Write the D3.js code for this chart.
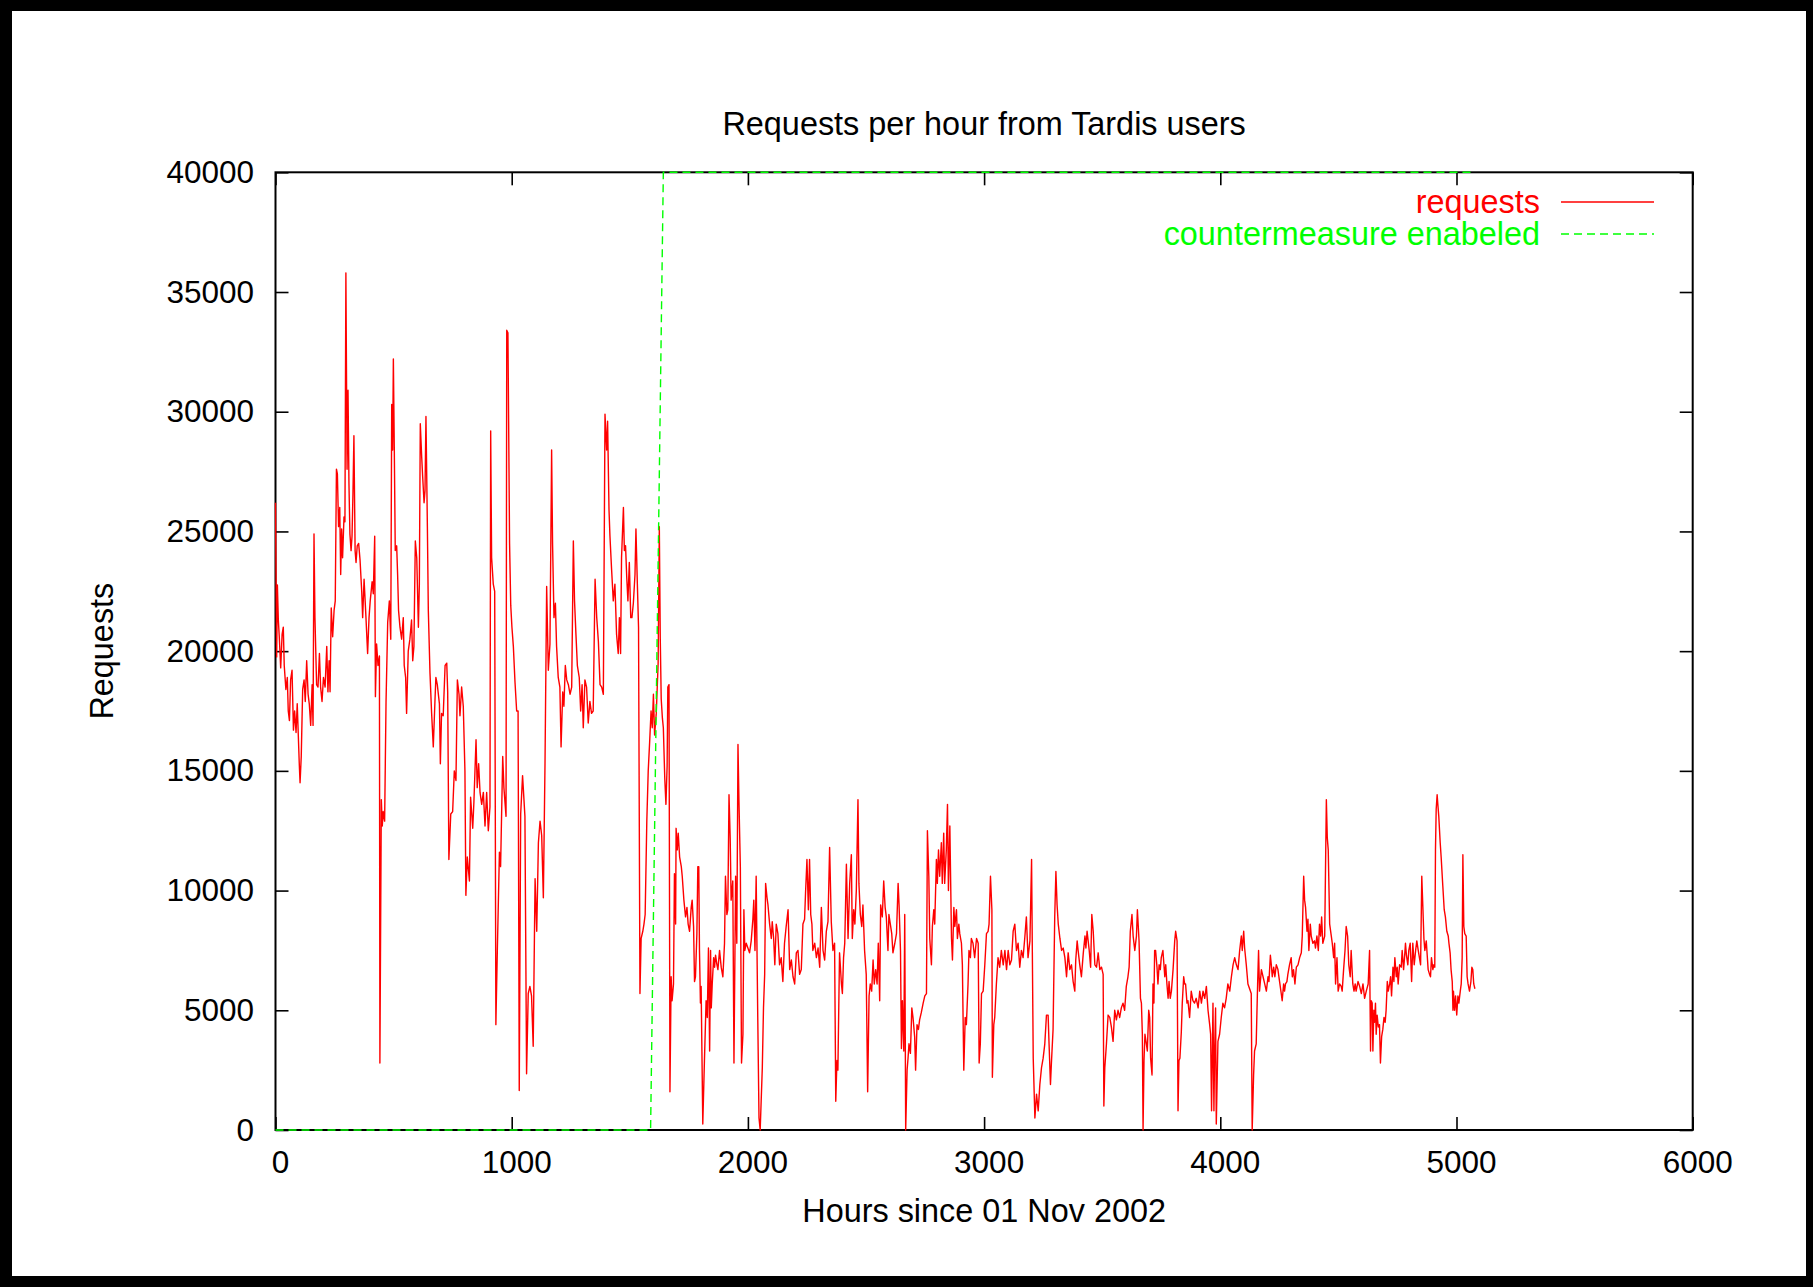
<!DOCTYPE html>
<html>
<head>
<meta charset="utf-8">
<script src="https://cdn.jsdelivr.net/npm/d3@7"></script>
<style>
  body { margin: 0; background: #fff; }
  text { font-family: "Liberation Sans", Arial, Helvetica, sans-serif; }
</style>
</head>
<body>
<script>
// Requests per hour. [hour, requests]
// Before the countermeasure (roughly hours 0 - 1640)
const requestsBefore = [
  [0,26200],[5,19760],[8,22760],[12,21300],[16,20600],[22,19300],[28,20700],[33,21000],[37,19400],
  [44,18400],[50,18900],[54,17500],[59,17100],[64,18800],[70,19200],[76,16700],[81,17500],[87,16600],
  [92,17800],[101,15200],[104,14500],[109,15600],[115,18400],[121,18800],[126,17900],[132,19600],
  [138,18200],[143,17800],[149,16900],[155,18600],[159,16900],[163,24900],[167,21400],[174,18600],
  [180,18500],[186,19900],[191,18500],[197,17900],[203,18900],[210,18500],[217,20200],[222,18300],
  [227,19600],[231,18300],[236,21800],[242,20600],[248,21700],[253,22100],[258,27600],[262,27400],
  [267,25200],[272,26000],[276,23200],[280,25100],[284,23900],[290,25600],[294,25400],[298,35800],
  [303,27600],[307,30900],[311,27000],[315,24900],[320,24200],[324,24800],[328,26600],[332,29000],
  [337,24200],[341,23700],[346,24400],[352,24500],[358,23800],[365,22500],[369,21400],[375,23000],
  [383,21400],[390,19900],[396,21400],[401,22100],[409,22900],[414,22400],[420,24800],[423,18100],
  [428,20300],[434,19400],[440,19800],[442,2800],[448,13800],[452,12700],[456,13300],[462,12900],
  [468,17900],[475,21200],[482,22100],[488,20500],[492,30300],[496,28400],[499,32200],[503,28400],
  [507,24200],[513,24400],[517,23200],[521,21700],[527,21000],[534,20500],[541,21400],[545,19400],
  [551,18900],[555,17400],[562,20000],[569,20500],[576,21300],[581,19600],[586,20200],[592,24600],
  [598,23900],[605,21000],[609,22800],[613,29500],[619,28100],[623,27300],[629,26200],[633,26700],
  [637,29800],[643,25200],[647,21700],[654,19100],[661,17400],[668,16000],[675,17900],[679,18900],
  [685,18600],[694,17800],[698,15300],[703,17400],[710,17300],[718,19400],[725,19500],[729,18300],
  [734,11300],[742,13200],[750,13300],[757,15000],[764,14600],[770,18800],[777,18200],[781,17300],
  [788,18500],[795,17700],[802,15000],[806,9800],[812,11400],[821,10400],[826,13900],[835,12600],
  [840,13700],[849,16300],[854,14300],[860,15300],[866,14100],[873,13600],[880,14100],[887,12700],
  [894,14100],[901,12500],[908,13500],[911,29200],[915,23900],[922,22800],[928,22500],[933,4400],
  [939,7400],[948,11600],[953,11000],[962,15600],[967,14300],[976,13100],[979,33400],[984,33300],
  [987,29600],[991,24500],[996,21900],[1001,21000],[1007,20200],[1014,18700],[1021,17500],[1027,17500],
  [1032,1650],[1038,13200],[1046,14800],[1056,13100],[1063,2350],[1070,5700],[1077,6000],[1084,5600],
  [1091,3500],[1099,10500],[1106,8300],[1113,12000],[1120,12900],[1127,12300],[1134,9700],[1141,15300],
  [1148,22700],[1155,19200],[1162,20300],[1169,28400],[1173,24500],[1179,21400],[1185,22000],[1190,20200],
  [1197,18900],[1204,18500],[1209,16000],[1216,18300],[1221,17700],[1227,19400],[1233,18800],[1240,18600],
  [1247,18200],[1254,18500],[1261,24600],[1266,22100],[1272,20700],[1278,19400],[1286,18900],[1292,17500],
  [1298,18600],[1303,16800],[1310,18800],[1317,18500],[1324,17000],[1331,17900],[1338,17400],[1345,17500],
  [1353,23000],[1360,21400],[1367,20400],[1374,18600],[1381,18500],[1388,18200],[1395,29900],[1402,28400],
  [1406,29600],[1412,25900],[1416,24800],[1423,23400],[1430,22100],[1437,22800],[1444,20700],[1451,19900],
  [1456,21400],[1461,19900],[1465,23900],[1473,26000],[1477,24200],[1482,24400],[1487,23100],[1492,22100],
  [1498,23700],[1504,21400],[1509,21400],[1515,22000],[1522,23200],[1526,25100],[1532,22800],[1537,21000],
  [1543,5700],[1548,8000],[1555,8300],[1560,8600],[1565,9000],[1572,12900],[1578,15000],[1584,16200],
  [1590,17500],[1595,16800],[1600,18200],[1605,16500],[1612,17400],[1620,19500],[1625,25200],[1629,20500],
  [1633,18000],[1638,17200]
];

// After the countermeasure (roughly hours 1640 - 5080)
const requestsAfter = [
  [1642,16800],[1648,14700],[1653,13600],[1658,15200],[1661,18500],[1666,18600],[1670,1600],[1675,6400],
  [1679,5400],[1685,6100],[1689,10700],[1694,8600],[1696,12600],[1701,11700],[1705,12400],[1711,11400],
  [1718,11000],[1722,10600],[1729,9600],[1736,8900],[1742,9300],[1747,8600],[1753,8300],[1760,9300],
  [1764,9600],[1770,8500],[1774,6200],[1778,6400],[1784,8200],[1788,11000],[1792,11000],[1795,7500],
  [1799,5300],[1802,6000],[1809,250],[1816,2900],[1823,5400],[1828,4700],[1833,7600],[1838,3300],
  [1842,7500],[1845,5100],[1849,6100],[1855,7200],[1859,6800],[1863,7300],[1869,6900],[1873,6700],
  [1880,7500],[1887,6800],[1894,6400],[1901,7800],[1905,10600],[1911,9000],[1915,9200],[1920,14000],
  [1925,12200],[1929,9600],[1936,10400],[1941,2800],[1948,10600],[1953,7800],[1958,16100],[1962,13800],
  [1968,11000],[1973,2800],[1979,4000],[1983,9200],[1987,7500],[1993,7800],[2000,7600],[2007,7400],
  [2014,7900],[2021,8800],[2025,9600],[2030,7500],[2035,10600],[2042,4500],[2047,500],[2052,0],
  [2061,2600],[2066,5100],[2071,6500],[2075,10300],[2081,9700],[2085,9400],[2092,8600],[2099,8000],
  [2103,8700],[2109,8000],[2114,6900],[2120,8600],[2127,8200],[2134,6900],[2141,7200],[2148,6200],
  [2155,7800],[2162,8500],[2170,9200],[2177,6700],[2184,7100],[2191,6400],[2198,6100],[2205,7400],
  [2212,7500],[2219,6500],[2226,6700],[2233,8600],[2240,8800],[2244,9900],[2250,11300],[2256,9200],
  [2261,11300],[2266,9000],[2271,8600],[2275,7500],[2283,7800],[2290,7200],[2297,7600],[2304,6800],
  [2311,9300],[2318,7500],[2325,7100],[2332,8300],[2339,8700],[2346,11800],[2353,8700],[2360,7500],
  [2367,7800],[2372,1200],[2377,2900],[2381,2500],[2388,7400],[2396,6100],[2400,5700],[2405,7200],
  [2410,7800],[2417,11100],[2424,8000],[2431,10300],[2438,11500],[2442,8000],[2448,9200],[2453,8600],
  [2459,10000],[2466,13800],[2470,10300],[2476,9000],[2482,8500],[2487,9400],[2494,7500],[2501,6500],
  [2507,1600],[2513,5600],[2518,6100],[2524,5800],[2530,7100],[2535,6100],[2541,6700],[2547,6100],
  [2552,7800],[2558,5400],[2562,9400],[2569,8900],[2575,10400],[2581,9300],[2586,8900],[2593,7500],
  [2597,9000],[2603,8600],[2609,8200],[2614,7400],[2622,7800],[2629,8200],[2636,10300],[2640,9400],
  [2646,7500],[2650,3400],[2654,5400],[2660,3300],[2664,9000],[2668,0],[2674,2500],[2678,3000],
  [2682,3600],[2688,3200],[2694,5100],[2699,4700],[2706,3900],[2710,2500],[2716,4400],[2722,4200],
  [2727,4600],[2734,4900],[2742,5300],[2749,5600],[2756,5700],[2760,12500],[2766,10600],[2770,8000],
  [2777,6900],[2781,8500],[2787,9200],[2791,8600],[2798,11300],[2802,10300],[2807,11700],[2812,10600],
  [2819,12000],[2823,10300],[2829,12400],[2833,10300],[2840,11700],[2845,13600],[2849,10000],[2855,12700],
  [2862,8000],[2866,7100],[2872,9300],[2876,8500],[2883,9200],[2887,8000],[2893,8600],[2897,8200],
  [2904,7800],[2908,6900],[2914,2500],[2920,4700],[2925,4400],[2932,6100],[2936,7500],[2942,7200],
  [2946,8000],[2953,7800],[2960,7200],[2968,8000],[2975,7800],[2979,2800],[2984,3600],[2989,5700],
  [2996,5800],[3003,6900],[3010,8200],[3017,8300],[3021,8600],[3027,10600],[3033,9200],[3035,2200],
  [3041,4400],[3045,4700],[3052,6100],[3059,7200],[3066,6800],[3073,7500],[3081,6900],[3088,7500],
  [3095,6700],[3102,7500],[3109,6900],[3116,7100],[3123,8300],[3130,8600],[3137,7500],[3144,7800],
  [3151,6800],[3158,7500],[3165,7200],[3172,8000],[3179,8900],[3186,7200],[3194,7900],[3201,11300],
  [3208,3000],[3215,500],[3222,1500],[3229,800],[3236,1900],[3243,2600],[3250,3000],[3257,3600],
  [3264,4800],[3271,4800],[3275,3600],[3281,1900],[3285,2800],[3292,4200],[3299,8900],[3304,10800],
  [3309,9400],[3314,8600],[3321,8000],[3328,7500],[3335,7600],[3342,7200],[3349,6400],[3356,7400],
  [3363,6700],[3370,6900],[3377,6200],[3384,5800],[3388,7100],[3394,7900],[3398,7500],[3405,6900],
  [3412,6400],[3420,7400],[3427,8100],[3431,7600],[3436,8300],[3445,7500],[3451,6800],[3456,9000],
  [3462,8300],[3469,6900],[3476,6800],[3483,7400],[3490,6700],[3497,6800],[3504,6500],[3507,1000],
  [3511,2600],[3518,3600],[3525,4800],[3532,4700],[3539,4300],[3546,3700],[3553,5000],[3560,4600],
  [3567,5000],[3574,4700],[3581,5100],[3588,5300],[3595,5000],[3602,6000],[3609,6400],[3614,6800],
  [3619,8300],[3626,9000],[3631,8100],[3638,7500],[3645,8100],[3649,9200],[3656,7900],[3662,5500],
  [3666,5300],[3670,4000],[3673,0],[3677,2900],[3681,4000],[3687,3600],[3691,3300],[3697,5000],
  [3701,4700],[3705,3000],[3711,2300],[3715,6100],[3719,5300],[3722,7500],[3726,7500],[3732,6800],
  [3736,6100],[3741,6900],[3746,6700],[3750,7200],[3757,7500],[3765,6400],[3769,6900],[3774,6100],
  [3779,5500],[3783,6200],[3788,5500],[3793,5800],[3800,6700],[3807,7900],[3811,8300],[3817,7900],
  [3821,800],[3825,2900],[3829,3000],[3835,4100],[3839,5300],[3845,6400],[3849,6100],[3853,6100],
  [3859,5300],[3863,5400],[3870,4700],[3877,5800],[3884,5400],[3891,5300],[3898,5500],[3906,5100],
  [3913,5800],[3920,5300],[3927,5800],[3934,5500],[3941,6000],[3948,5000],[3955,4400],[3959,4000],
  [3963,800],[3969,5300],[3973,800],[3976,3300],[3980,5100],[3983,250],[3990,3700],[3997,4000],
  [4004,4700],[4011,5300],[4018,5100],[4025,5500],[4032,6100],[4040,5800],[4047,6400],[4054,6900],
  [4061,7200],[4068,6900],[4075,6700],[4082,7500],[4089,8100],[4093,7500],[4099,8300],[4103,7600],
  [4110,6900],[4117,6100],[4124,5900],[4131,5700],[4135,0],[4141,2300],[4145,3300],[4152,3600],
  [4158,6100],[4162,7500],[4166,5800],[4174,6700],[4181,6400],[4188,6100],[4195,5800],[4202,6400],
  [4206,6200],[4212,7300],[4216,6900],[4220,6400],[4226,6800],[4231,6400],[4237,6900],[4244,6700],
  [4251,6200],[4258,5700],[4262,5400],[4268,6100],[4272,5800],[4276,6100],[4282,6200],[4286,6500],
  [4293,6900],[4300,7200],[4305,6400],[4310,6700],[4316,6100],[4322,6800],[4329,6900],[4336,7200],
  [4343,7400],[4347,8100],[4353,10600],[4357,9600],[4361,9300],[4367,8300],[4371,8800],[4375,7500],
  [4381,8600],[4385,8100],[4392,7800],[4399,7900],[4403,7600],[4409,8100],[4415,7500],[4420,8600],
  [4425,8100],[4429,8900],[4434,7800],[4442,8100],[4449,13800],[4453,12200],[4457,11700],[4463,8600],
  [4470,8100],[4474,7800],[4480,7200],[4484,7800],[4488,6100],[4494,7200],[4499,5800],[4505,6100],
  [4512,6000],[4516,5800],[4522,6700],[4528,7500],[4533,8500],[4539,8100],[4544,6900],[4550,6400],
  [4554,7500],[4561,6100],[4566,5800],[4571,6100],[4575,5800],[4583,6200],[4590,6000],[4597,5700],
  [4604,6100],[4611,5500],[4618,5800],[4626,6100],[4632,7500],[4636,3300],[4639,5400],[4643,5300],
  [4646,3300],[4650,5000],[4653,4500],[4657,5300],[4660,4000],[4664,4800],[4669,4300],[4674,4400],
  [4678,2800],[4683,3900],[4688,4200],[4693,4700],[4698,4500],[4702,5000],[4707,6200],[4711,5800],
  [4717,6100],[4721,6400],[4725,5600],[4731,6800],[4735,6200],[4739,7200],[4745,6400],[4749,6800],
  [4753,6100],[4759,6900],[4766,6800],[4770,7500],[4776,6700],[4780,7200],[4784,7800],[4788,7300],
  [4794,6900],[4798,7500],[4804,7800],[4810,6200],[4815,7800],[4821,6900],[4827,7500],[4832,7900],
  [4838,7500],[4843,7200],[4848,6900],[4853,10600],[4858,9200],[4862,8000],[4866,7500],[4872,7900],
  [4876,7300],[4880,6700],[4886,6500],[4890,6400],[4894,7200],[4900,6700],[4904,6900],[4908,6800],
  [4911,11700],[4914,13400],[4918,14000],[4921,13600],[4925,13100],[4931,12000],[4935,11400],[4942,10200],
  [4948,9200],[4953,8900],[4959,8300],[4965,8100],[4968,7800],[4973,7400],[4977,6700],[4982,6200],
  [4985,5000],[4987,5800],[4992,5000],[4996,5600],[5001,4800],[5006,5600],[5010,5300],[5016,5800],
  [5020,6100],[5024,7200],[5027,11500],[5031,8500],[5035,8200],[5041,8100],[5045,6400],[5049,6100],
  [5055,5800],[5061,6200],[5065,6800],[5069,6700],[5073,6100],[5078,5900]
];

// countermeasure switch: 0 = off, 40000 = on (drawn as a step)
const counterHours = [0, 1588, 1642, 5065];
const counterValues = [0, 0, 40000, 40000];

const xTicks = [0, 1000, 2000, 3000, 4000, 5000, 6000];
const yTicks = [0, 5000, 10000, 15000, 20000, 25000, 30000, 35000, 40000];

const W = 1813, H = 1287;
// plot box ("top" is taken by window.top, so prefix these)
const plotL = 275.5, plotR = 1692.7, plotT = 172.3, plotB = 1130;

var svg = d3.select("body").append("svg").attr("width", W).attr("height", H);

// thick black frame round the whole picture
svg.append("rect").attr("width", W).attr("height", H).attr("fill", "#000");
svg.append("rect").attr("x", 12).attr("y", 11).attr("width", 1806 - 12).attr("height", 1276 - 11).attr("fill", "#fff");

var x = d3.scaleLinear().domain([0, 6000]).range([plotL, plotR]);
var y = d3.scaleLinear().domain([0, 40000]).range([plotB, plotT]);

const fs = 31.5;      // tick numbers
const labelFs = 32.4; // title, axis titles, legend
var fmt = d3.format("d");

// axes, ticks pointing inwards like gnuplot does
function styleAxis(g) {
  g.select(".domain").remove();
  g.selectAll(".tick line").attr("stroke", "#000").attr("stroke-width", 1.6);
  g.selectAll(".tick text").attr("fill", "#000").style("font-size", fs + "px")
    .style("font-family", "'Liberation Sans', Arial, Helvetica, sans-serif");
}

svg.append("g").attr("transform", `translate(0,${plotB})`)
  .call(d3.axisBottom(x).tickValues(xTicks).tickFormat(fmt).tickSizeInner(-13).tickSizeOuter(0).tickPadding(20.5))
  .call(styleAxis)
  .selectAll(".tick text").attr("dx", 4.5);

svg.append("g").attr("transform", `translate(0,${plotT})`)
  .call(d3.axisTop(x).tickValues(xTicks).tickFormat("").tickSizeInner(-13).tickSizeOuter(0))
  .call(styleAxis);

svg.append("g").attr("transform", `translate(${plotL},0)`)
  .call(d3.axisLeft(y).tickValues(yTicks).tickFormat(fmt).tickSizeInner(-13).tickSizeOuter(0).tickPadding(21.5))
  .call(styleAxis);

svg.append("g").attr("transform", `translate(${plotR},0)`)
  .call(d3.axisRight(y).tickValues(yTicks).tickFormat("").tickSizeInner(-13).tickSizeOuter(0))
  .call(styleAxis);

// plot border
svg.append("rect").attr("x", plotL).attr("y", plotT).attr("width", plotR - plotL).attr("height", plotB - plotT)
  .attr("fill", "none").attr("stroke", "#000").attr("stroke-width", 2);

var line = d3.line().x(d => x(d[0])).y(d => y(d[1]));

const requests = requestsBefore.concat(requestsAfter);

svg.append("path").datum(requests).attr("d", line)
  .attr("fill", "none").attr("stroke", "#ff0000").attr("stroke-width", 1.4).attr("stroke-linejoin", "round");

var counter = counterHours.map((h, i) => [h, counterValues[i]]);
svg.append("path").datum(counter).attr("d", line)
  .attr("fill", "none").attr("stroke", "#00ff00").attr("stroke-width", 1.4).attr("stroke-dasharray", "8,5");

// title and axis labels
svg.append("text").attr("x", (plotL + plotR) / 2).attr("y", 135).attr("text-anchor", "middle")
  .style("font-size", labelFs + "px").text("Requests per hour from Tardis users");

svg.append("text").attr("x", (plotL + plotR) / 2).attr("y", 1222).attr("text-anchor", "middle")
  .style("font-size", labelFs + "px").text("Hours since 01 Nov 2002");

svg.append("text").attr("transform", `translate(113,${(plotT + plotB) / 2}) rotate(-90)`).attr("text-anchor", "middle")
  .style("font-size", labelFs + "px").text("Requests");

// legend, top right inside the plot
const legendItems = [
  { name: "requests", color: "#ff0000", dash: null, ly: 202 },
  { name: "countermeasure enabeled", color: "#00ff00", dash: "8,5", ly: 234 }
];
legendItems.forEach(function (d) {
  svg.append("text").attr("x", 1540).attr("y", d.ly + 11).attr("text-anchor", "end")
    .attr("fill", d.color).style("font-size", labelFs + "px").text(d.name);
  svg.append("line").attr("x1", 1561).attr("x2", 1654).attr("y1", d.ly).attr("y2", d.ly)
    .attr("stroke", d.color).attr("stroke-width", 1.4).attr("stroke-dasharray", d.dash);
});
</script>
</body>
</html>
